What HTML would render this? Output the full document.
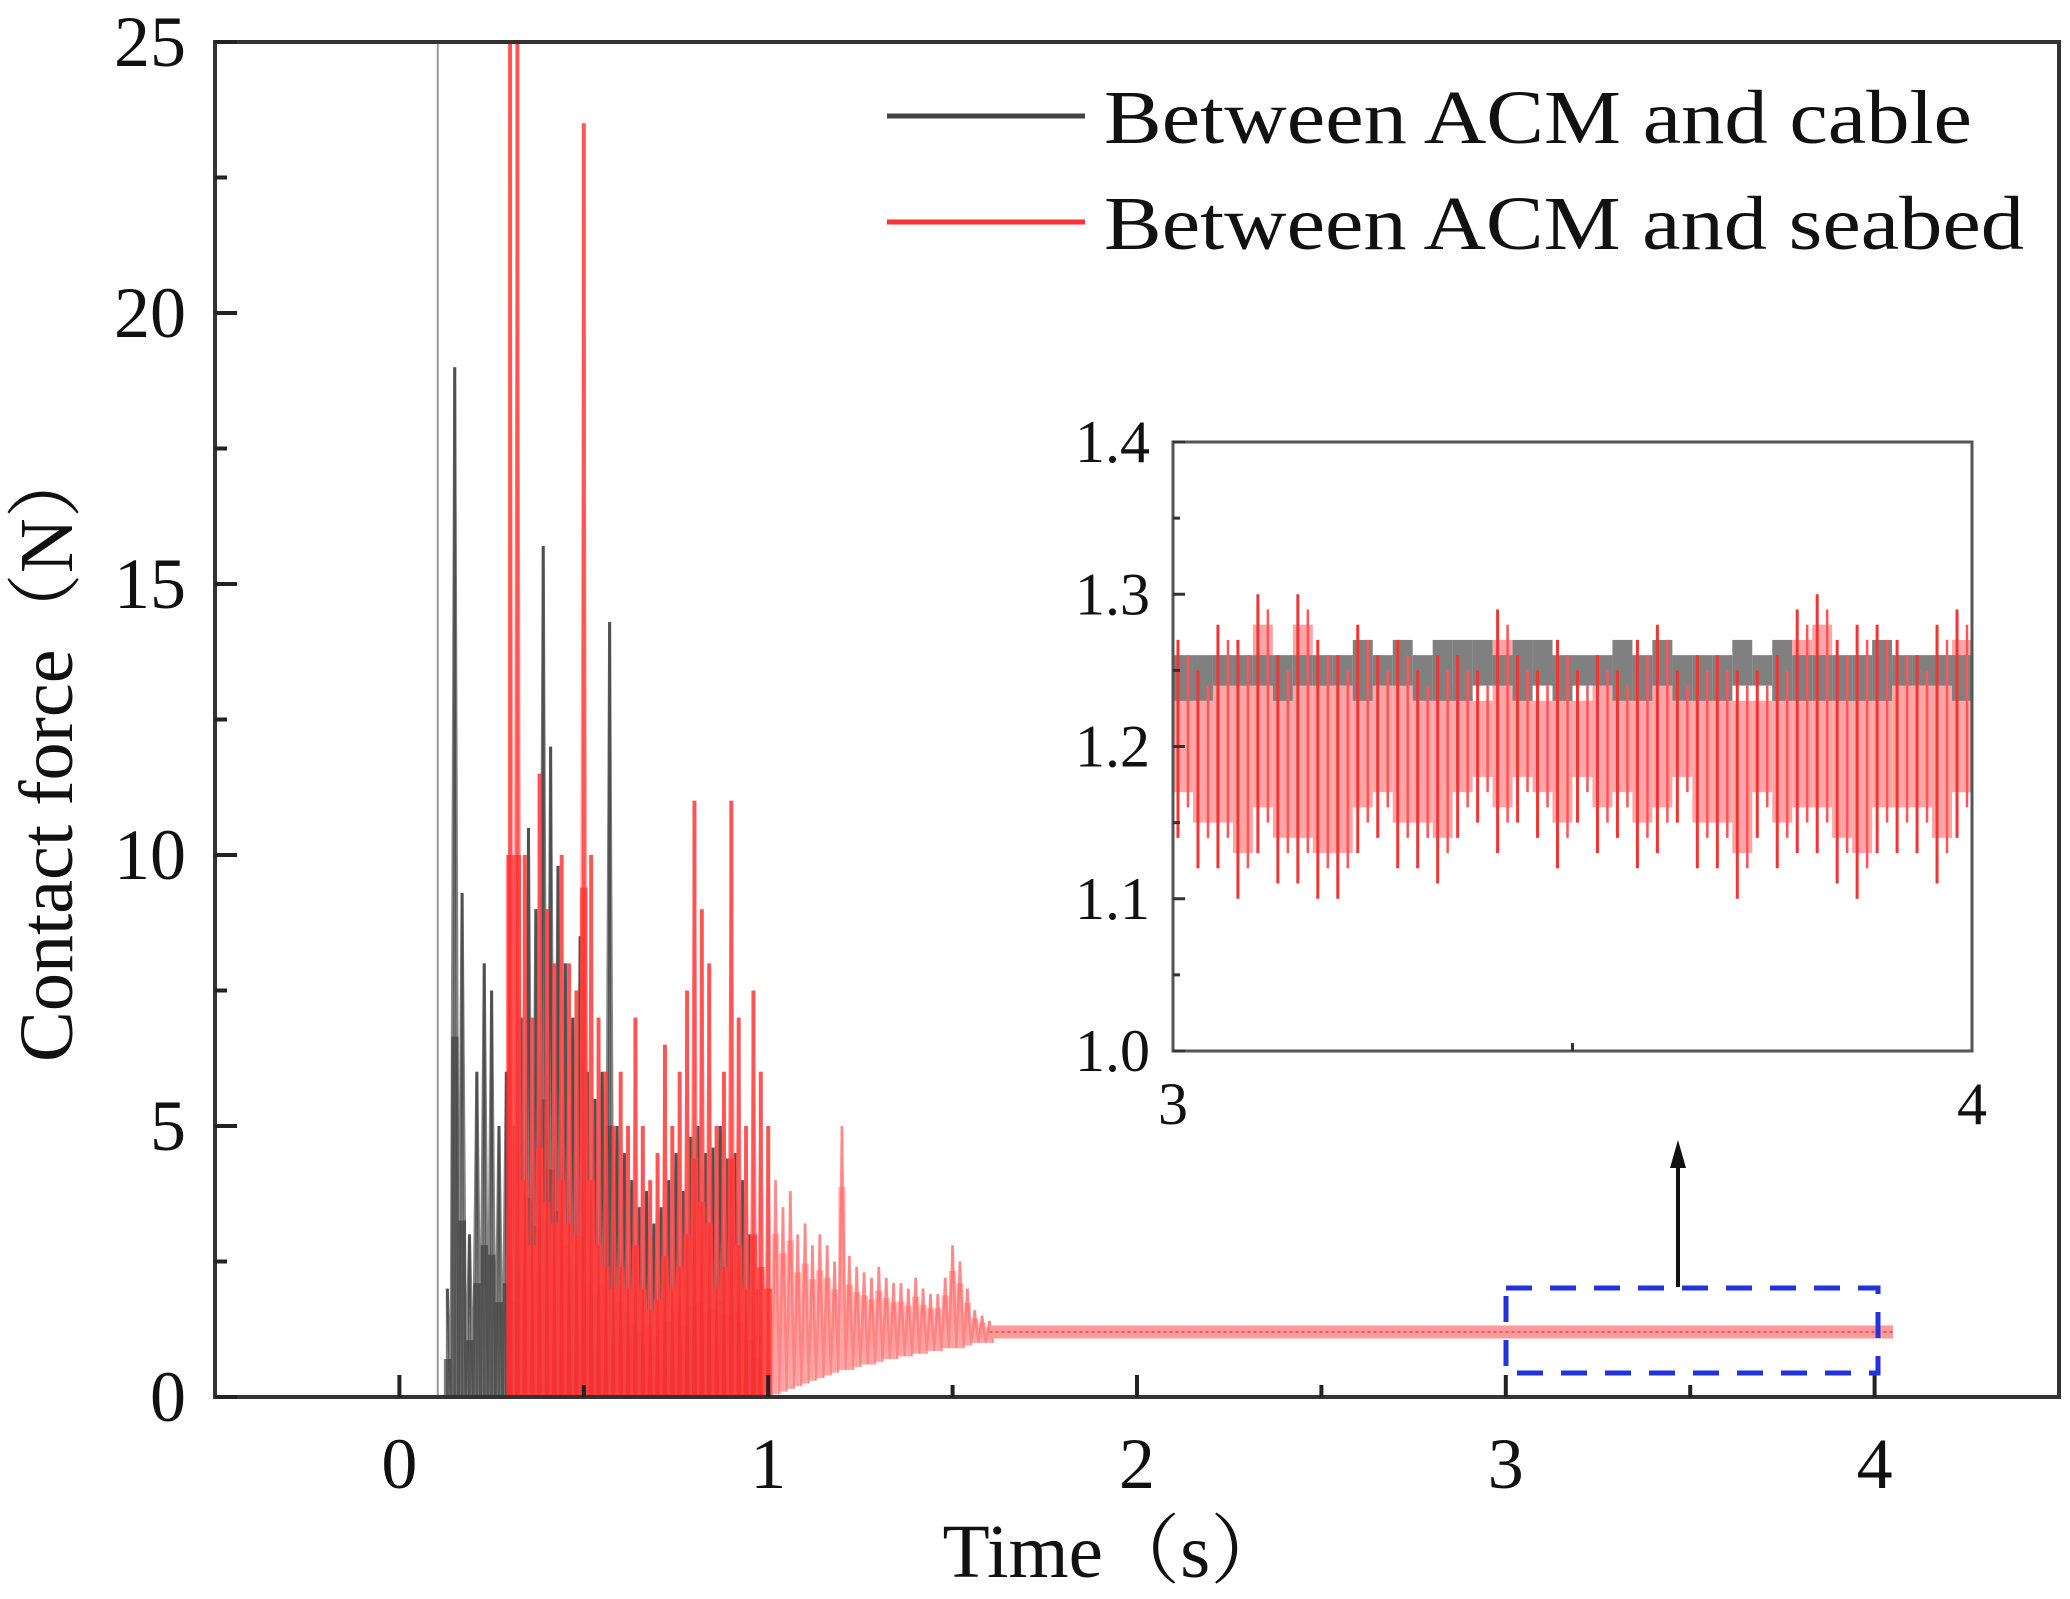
<!DOCTYPE html>
<html><head><meta charset="utf-8"><style>
html,body{margin:0;padding:0;background:#fff;}
svg{display:block;font-family:"Liberation Serif","Noto Serif CJK SC",serif;}
</style></head><body>
<svg id="chart" width="2070" height="1599" viewBox="0 0 2070 1599" xmlns="http://www.w3.org/2000/svg">
<g id="main"></g>
<g id="inset"></g>
<g id="axes"></g>
<text x="0" y="0" transform="translate(72,752) rotate(-90)" text-anchor="middle" font-size="76" fill="#111" textLength="620" lengthAdjust="spacingAndGlyphs">Contact force（N）</text>
<text x="1115" y="1577" text-anchor="middle" font-size="76" fill="#111" textLength="345" lengthAdjust="spacingAndGlyphs">Time（s）</text>
<g>
<g><line x1="887" y1="116" x2="1085" y2="116" stroke="#444" stroke-width="5"/><text x="1104" y="143" font-size="76" fill="#111" textLength="868" lengthAdjust="spacingAndGlyphs">Between ACM and cable</text></g>
<g><line x1="887" y1="222" x2="1085" y2="222" stroke="#f33" stroke-width="5"/><text x="1104" y="249" font-size="76" fill="#111" textLength="920" lengthAdjust="spacingAndGlyphs">Between ACM and seabed</text></g>
</g>
<g>
<rect x="1506" y="1288" width="372" height="85" fill="none" stroke="#2233dd" stroke-width="5" stroke-dasharray="26,18"/>
<line x1="1678" y1="1287" x2="1678" y2="1165" stroke="#111" stroke-width="4"/>
<polygon points="1678,1140 1670,1168 1686,1168" fill="#111"/>
</g>
</svg>
<script>
// ---- main chart data ----
const blackT0 = 0.13, blackStep = 0.02;
const blackHi = [2,19,9.3,3,6,8,7.5,5,6,5,7,10.5,9,15.7,12,9.8,8,7,8.5,6,5.5,6,14.3,5,4.5,4,3.5,3.8,3.2,3.5,4,4.5,3.8,4.8,5,4.5,4.6,5,4.4,4.5,4,3,2];
const redT0 = 0.30, redStep = 0.02;
const redHi = [25,25,10,7,11.5,9,8,10,8,7.5,23.5,10,7,6,5,6,5,7,5,4,4.5,6.5,5,6,7.5,11,9,8,5,6,11,7,5,7.5,6,5,4,3.5,3.8,3,3.2,2.8,3,2.8,2.5,5,2.6,2.4,2.3,2.2,2.4,2.2,2.1,2.1,2,2.2,2,1.9,1.9,2.2,2.8,2.5,2,1.6,1.5,1.4];
const redLo = [0,0,0,0,0,0,0,0,0,0,0,0,0,0,0,0,0,0,0,0,0,0,0,0,0,0,0,0,0,0,0,0,0,0,0,0,0.05,0.1,0.15,0.2,0.25,0.3,0.35,0.4,0.45,0.5,0.5,0.55,0.6,0.6,0.65,0.7,0.7,0.75,0.75,0.8,0.8,0.85,0.85,0.9,0.9,0.9,0.95,1.0,1.0,1.0];
const initialSpikeT = 0.104, initialSpikeV = 25;
const steadyStart = 1.6, steadyEnd = 4.05, steadyVal = 1.2, steadyBand = 0.12;
const xTicks = [0,1,2,3,4];
const xTickLabels = ["0","1","2","3","4"];
const yTicks = [0,5,10,15,20,25];
const yTickLabels = ["0","5","10","15","20","25"];
// ---- inset data ----
const inT0 = 3, inStep = 0.025;
const inRedHi = [1.27,1.25,1.28,1.27,1.30,1.26,1.30,1.27,1.26,1.28,1.26,1.27,1.25,1.26,1.26,1.25,1.29,1.26,1.25,1.27,1.25,1.26,1.25,1.27,1.28,1.25,1.26,1.26,1.25,1.25,1.26,1.29,1.30,1.27,1.28,1.28,1.27,1.26,1.28,1.29];
const inRedLo = [1.14,1.12,1.12,1.10,1.13,1.11,1.11,1.10,1.10,1.13,1.14,1.12,1.12,1.11,1.14,1.15,1.13,1.15,1.14,1.12,1.15,1.13,1.14,1.12,1.13,1.15,1.12,1.12,1.10,1.14,1.12,1.13,1.13,1.11,1.10,1.13,1.13,1.13,1.11,1.14];
const inBlackHi = [1.26,1.26,1.26,1.26,1.26,1.26,1.26,1.26,1.26,1.27,1.26,1.27,1.26,1.27,1.27,1.27,1.26,1.27,1.27,1.26,1.26,1.26,1.27,1.26,1.27,1.26,1.26,1.26,1.27,1.26,1.27,1.26,1.26,1.26,1.26,1.27,1.26,1.26,1.26,1.26];
const inBlackLo = [1.23,1.23,1.24,1.24,1.24,1.23,1.24,1.24,1.24,1.23,1.24,1.24,1.23,1.23,1.23,1.24,1.24,1.23,1.24,1.23,1.24,1.24,1.23,1.23,1.24,1.23,1.23,1.23,1.24,1.24,1.23,1.23,1.23,1.23,1.23,1.23,1.24,1.24,1.24,1.23];
const inXTicks = [3,4], inXTickLabels = ["3","4"];
const inYTicks = [1.0,1.1,1.2,1.3,1.4], inYTickLabels = ["1.0","1.1","1.2","1.3","1.4"];

const NS = "http://www.w3.org/2000/svg";
function mk(tag, attrs, parent){const e=document.createElementNS(NS,tag);for(const k in attrs)e.setAttribute(k,attrs[k]);parent.appendChild(e);return e;}
const L=215,R=2059,T=42,B=1397, xmin=-0.5,xmax=4.5,ymin=0,ymax=25;
const X=t=>L+(t-xmin)/(xmax-xmin)*(R-L);
const Y=v=>B-(v-ymin)/(ymax-ymin)*(B-T);
const main=document.getElementById('main');
const axes=document.getElementById('axes');

let e=mk('line',{x1:X(initialSpikeT),y1:Y(0),x2:X(initialSpikeT),y2:Y(initialSpikeV),stroke:'#999','stroke-width':2},main);



function band(g,t0,step,hi,lo,stroke,sw,op){
  let pts=[];
  for(let i=0;i<hi.length;i++){const x=X(t0+i*step);pts.push(x+','+Y(hi[i]));const x2=X(t0+(i+0.5)*step);pts.push(x2+','+Y(lo?lo[i]:0));}
  return mk('polyline',{points:pts.join(' '),fill:'none',stroke:stroke,'stroke-width':sw,'stroke-opacity':op,'stroke-linejoin':'miter'},g);
}
const gb=mk('g',{},main);


for(let i=0;i<blackHi.length;i++){
  const t=blackT0+i*blackStep;
  const r=mk('rect',{x:X(t)-3.5,y:Y(blackHi[i]*0.35),width:7.4,height:Y(0)-Y(blackHi[i]*0.35),fill:'#555','fill-opacity':0.75},gb);
  
  
  const l=mk('line',{x1:X(t),y1:Y(0),x2:X(t),y2:Y(blackHi[i]),stroke:'#444','stroke-width':3,'stroke-opacity':0.7},gb);
  
  
}
band(gb,blackT0,blackStep,blackHi,null,'#333',3,0.6);
const gr=mk('g',{},main);


for(let i=0;i<redHi.length;i++){
  const t=redT0+i*redStep;
  const strong=t<=1.0;
  const col=strong?'#ff3030':'#ff8c8c';
  const op=strong?0.85:0.6;
  const fh=strong?redHi[i]*0.4:(redHi[i]+redLo[i])/2+(redHi[i]-redLo[i])*0.25;
  const r=mk('rect',{x:X(t)-3.7,y:Y(fh),width:7.4,height:Y(redLo[i])-Y(fh),fill:col,'fill-opacity':op},gr);
  
  
  const l=mk('line',{x1:X(t),y1:Y(redLo[i]),x2:X(t),y2:Y(redHi[i]),stroke:col,'stroke-width':strong?4:3,'stroke-opacity':strong?0.8:0.55},gr);
  
  
}
band(gr,redT0,redStep,redHi,redLo,'#ff5050',2.5,0.5);
e=mk('rect',{x:X(steadyStart),y:Y(steadyVal+steadyBand),width:X(steadyEnd)-X(steadyStart),height:Y(steadyVal-steadyBand)-Y(steadyVal+steadyBand),fill:'#ff9a9a'},gr);


e=mk('line',{x1:X(steadyStart),y1:Y(steadyVal),x2:X(steadyEnd),y2:Y(steadyVal),stroke:'#e04848','stroke-width':1.5,'stroke-dasharray':'3,3'},gr);



e=mk('rect',{x:L,y:T,width:R-L,height:B-T,fill:'none',stroke:'#333','stroke-width':4},axes);


xTicks.forEach((t,i)=>{
  let l=mk('line',{x1:X(t),y1:B,x2:X(t),y2:B-22,stroke:'#222','stroke-width':4},axes);
  
  
  if(i<xTicks.length-1){let m=mk('line',{x1:X(t+0.5),y1:B,x2:X(t+0.5),y2:B-12,stroke:'#222','stroke-width':4},axes);
  
  }
  let tx=mk('text',{x:X(t),y:1488,'text-anchor':'middle','font-size':72,fill:'#111'},axes);tx.textContent=xTickLabels[i];
  
  
});
yTicks.forEach((v,i)=>{
  let l=mk('line',{x1:L,y1:Y(v),x2:L+22,y2:Y(v),stroke:'#222','stroke-width':4},axes);
  
  
  if(i<yTicks.length-1){let m=mk('line',{x1:L,y1:Y(v+2.5),x2:L+12,y2:Y(v+2.5),stroke:'#222','stroke-width':4},axes);
  
  }
  let tx=mk('text',{x:186,y:Y(v)+24,'text-anchor':'end','font-size':72,fill:'#111'},axes);tx.textContent=yTickLabels[i];
  
  
});

const iL=1173,iR=1972,iT=442,iB=1051, ix0=3,ix1=4,iy0=1.0,iy1=1.4;
const IX=t=>iL+(t-ix0)/(ix1-ix0)*(iR-iL);
const IY=v=>iB-(v-iy0)/(iy1-iy0)*(iB-iT);
const inset=document.getElementById('inset');
e=mk('rect',{x:iL,y:iT,width:iR-iL,height:iB-iT,fill:'#fff'},inset);


const bw=(iR-iL)/inRedHi.length;
for(let i=0;i<inRedHi.length;i++){
  const t=inT0+(i+0.5)*inStep;
  let r=mk('rect',{x:IX(t)-bw/2,y:IY(inRedHi[i]-0.02),width:bw,height:IY(inRedLo[i]+0.03)-IY(inRedHi[i]-0.02),fill:'#ffa5a5'},inset);
  
  
  let b=mk('rect',{x:IX(t)-bw/2,y:IY(inBlackHi[i]),width:bw,height:IY(inBlackLo[i])-IY(inBlackHi[i]),fill:'#808080'},inset);
  
  
  let l=mk('line',{x1:IX(t)-bw/4,y1:IY(inRedLo[i]),x2:IX(t)-bw/4,y2:IY(inRedHi[i]),stroke:'#f03535','stroke-width':3},inset);
  
  
  let l2=mk('line',{x1:IX(t)+bw/4,y1:IY(inRedLo[i]+0.02),x2:IX(t)+bw/4,y2:IY(inRedHi[i]-0.01),stroke:'#f55','stroke-width':2.5},inset);
  
  
}
e=mk('rect',{x:iL,y:iT,width:iR-iL,height:iB-iT,fill:'none',stroke:'#555','stroke-width':3},inset);


inXTicks.forEach((t,i)=>{
  let tx=mk('text',{x:IX(t),y:1124,'text-anchor':'middle','font-size':60,fill:'#111'},inset);tx.textContent=inXTickLabels[i];
  
  
});
e=mk('line',{x1:IX(3.5),y1:iB,x2:IX(3.5),y2:iB-8,stroke:'#333','stroke-width':3},inset);


inYTicks.forEach((v,i)=>{
  let l=mk('line',{x1:iL,y1:IY(v),x2:iL+12,y2:IY(v),stroke:'#333','stroke-width':3},inset);
  
  
  if(i<inYTicks.length-1){let m=mk('line',{x1:iL,y1:IY(v+0.05),x2:iL+7,y2:IY(v+0.05),stroke:'#333','stroke-width':3},inset);
  
  }
  let tx=mk('text',{x:1150,y:IY(v)+20,'text-anchor':'end','font-size':60,fill:'#111'},inset);tx.textContent=inYTickLabels[i];
  
  
});
</script>
</body></html>
